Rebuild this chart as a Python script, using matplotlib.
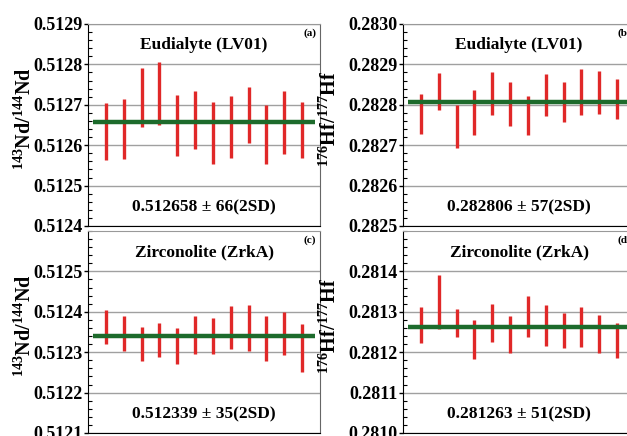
import numpy as np
import matplotlib
matplotlib.use("Agg")
import matplotlib.pyplot as plt
from matplotlib.ticker import MultipleLocator, FormatStrFormatter

plt.rcParams['font.family'] = 'Liberation Serif'
plt.rcParams['font.weight'] = 'bold'
plt.rcParams['mathtext.fontset'] = 'custom'
plt.rcParams['mathtext.rm'] = 'Liberation Serif:bold'
plt.rcParams['mathtext.bf'] = 'Liberation Serif:bold'

# analysis number
spots = np.arange(1, 13)

# (a) eudialyte LV01, 143Nd/144Nd, mean and 2SD of each spot
nd_eud = [0.512634, 0.512640, 0.512718, 0.512728, 0.512649, 0.512662,
          0.512631, 0.512645, 0.512674, 0.512627, 0.512656, 0.512638]
nd_eud_err = [0.000070, 0.000075, 0.000072, 0.000077, 0.000075, 0.000071,
              0.000077, 0.000076, 0.000069, 0.000073, 0.000079, 0.000069]
nd_eud_mean = 0.512658

# (b) eudialyte LV01, 176Hf/177Hf
hf_eud = [0.282777, 0.282832, 0.282746, 0.282781, 0.282827, 0.282802,
          0.282774, 0.282824, 0.282807, 0.282831, 0.282830, 0.282814]
hf_eud_err = [0.000050, 0.000046, 0.000054, 0.000055, 0.000053, 0.000054,
              0.000048, 0.000052, 0.000049, 0.000057, 0.000054, 0.000050]
hf_eud_mean = 0.282806

# (c) zirconolite ZrkA, 143Nd/144Nd
nd_zrk = [0.512362, 0.512347, 0.512320, 0.512330, 0.512315, 0.512342,
          0.512340, 0.512361, 0.512360, 0.512334, 0.512347, 0.512310]
nd_zrk_err = [0.000042, 0.000043, 0.000043, 0.000042, 0.000044, 0.000047,
              0.000044, 0.000054, 0.000058, 0.000055, 0.000053, 0.000059]
nd_zrk_mean = 0.512339

# (d) zirconolite ZrkA, 176Hf/177Hf
hf_zrk = [0.281267, 0.281324, 0.281273, 0.281232, 0.281272, 0.281244,
          0.281288, 0.281267, 0.281254, 0.281263, 0.281246, 0.281229]
hf_zrk_err = [0.000045, 0.000067, 0.000035, 0.000048, 0.000047, 0.000046,
              0.000051, 0.000051, 0.000044, 0.000050, 0.000047, 0.000044]
hf_zrk_mean = 0.281263

fig = plt.figure(figsize=(6.27, 4.36), dpi=100)

W, H = 627.0, 436.0
def add_ax(left, top):
    return fig.add_axes([left / W, (H - top - 202) / H, 232 / W, 202 / H])

panels = [
    (add_ax(88, 24), nd_eud, nd_eud_err, nd_eud_mean, (0.5124, 0.5129),
     'Eudialyte (LV01)', '0.512658 ± 66(2SD)', '(a)', r'$^{143}$Nd/$^{144}$Nd'),
    (add_ax(403, 24), hf_eud, hf_eud_err, hf_eud_mean, (0.2825, 0.2830),
     'Eudialyte (LV01)', '0.282806 ± 57(2SD)', '(b)', r'$^{176}$Hf/$^{177}$Hf'),
    (add_ax(88, 231), nd_zrk, nd_zrk_err, nd_zrk_mean, (0.5121, 0.5126),
     'Zirconolite (ZrkA)', '0.512339 ± 35(2SD)', '(c)', r'$^{143}$Nd/$^{144}$Nd'),
    (add_ax(403, 231), hf_zrk, hf_zrk_err, hf_zrk_mean, (0.2810, 0.2815),
     'Zirconolite (ZrkA)', '0.281263 ± 51(2SD)', '(d)', r'$^{176}$Hf/$^{177}$Hf'),
]

for i, (ax, vals, errs, mean, ylim, title, note, tag, ylab) in enumerate(panels):
    vals = np.array(vals)
    errs = np.array(errs)
    ax.vlines(spots, vals - errs, vals + errs, color='#e02828', lw=2.4, zorder=3)
    ax.hlines(mean, 0.3, 12.7, color='#1d6b2c', lw=3.2, zorder=4)
    ax.set_xlim(0, 13)
    ax.set_ylim(*ylim)
    ax.set_xticks([])
    ax.yaxis.set_major_locator(MultipleLocator(0.0001))
    ax.yaxis.set_minor_locator(MultipleLocator(0.00002))
    ax.yaxis.set_major_formatter(FormatStrFormatter('%.4f'))
    ax.tick_params(axis='y', which='major', direction='out', length=3,
                   width=1, labelsize=13, pad=1)
    ax.tick_params(axis='y', which='minor', direction='in', length=3, width=0.8)
    for lab in ax.get_yticklabels():
        lab.set_fontweight('bold')
    ax.grid(axis='y', which='major', color='#a0a0a0', lw=1)
    ax.set_axisbelow(True)
    ax.spines['left'].set_color('black')
    ax.spines['bottom'].set_color('black')
    ax.spines['top'].set_color('#999999')
    ax.spines['right'].set_color('#666666')
    if i >= 2:
        # top label is covered by the panel above
        ax.set_yticks(np.arange(ylim[0], ylim[1] - 0.00005, 0.0001))
    ax.set_ylabel(ylab, fontsize=14.5, fontweight='bold')
    ax.yaxis.set_label_coords(-0.225 if i % 2 == 0 else -0.268, 0.53)
    ax.text(0.5, 0.895, title, transform=ax.transAxes, ha='center',
            va='center', fontsize=12.5, fontweight='bold')
    ax.text(0.5, 0.09, note, transform=ax.transAxes, ha='center',
            va='center', fontsize=12.5, fontweight='bold')
    ax.text(0.955, 0.955, tag, transform=ax.transAxes, ha='center',
            va='center', fontsize=8, fontweight='bold')

fig.savefig('out.png', dpi=100)
